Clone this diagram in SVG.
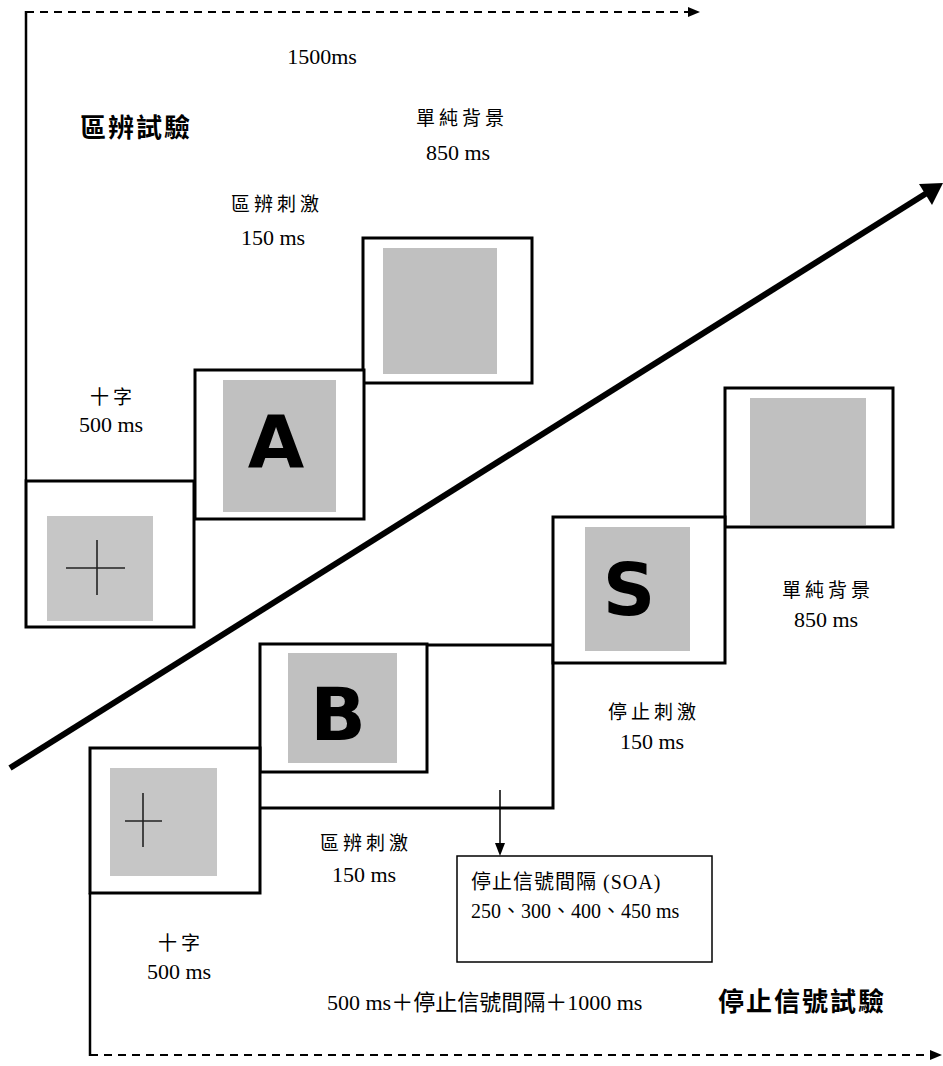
<svg xmlns="http://www.w3.org/2000/svg" width="943" height="1066" viewBox="0 0 943 1066">
<style>
.t{font-family:"Liberation Serif","Noto Sans CJK TC",serif;font-size:22px;fill:#000;text-anchor:middle}
.c{font-family:"Liberation Serif","Noto Sans CJK TC",serif;font-size:19px;fill:#000;text-anchor:middle;letter-spacing:4px}
.tl{font-family:"Liberation Serif","Noto Sans CJK TC",serif;font-size:20px;fill:#000}
.h{font-family:"Liberation Serif","Noto Sans CJK TC",serif;font-size:26px;font-weight:bold;fill:#000;letter-spacing:2px}
.box{fill:#fff;stroke:#000;stroke-width:3}
.g{fill:#c0c0c0}
.g2{fill:#c6c6c6}
.cr{stroke:#222;stroke-width:1.6}
.L{font-family:"DejaVu Sans",sans-serif;font-weight:bold;font-size:73px;fill:#000;text-anchor:middle}
.dash{fill:none;stroke:#000;stroke-width:2;stroke-dasharray:8 6}
</style>

<g id="connectors">
<path class="dash" d="M26,12 H688" />
<path d="M688,7 L700,12 L688,17 z" fill="#000"/>
<path class="dash" d="M90,1055 H930" />
<path d="M930,1050 L942,1055 L930,1060 z" fill="#000"/>
<line x1="26" y1="11" x2="26" y2="480" stroke="#000" stroke-width="2.5"/>
<line x1="90" y1="893" x2="90" y2="1056" stroke="#000" stroke-width="2.5"/>
<line x1="10" y1="768" x2="930" y2="191" stroke="#000" stroke-width="6"/>
<path d="M943,183 L919,184 L932,205 z" fill="#000"/>
<polyline points="427,645 553,645 553,808 260,808" fill="none" stroke="#000" stroke-width="3"/>
<line x1="500" y1="790" x2="500" y2="843" stroke="#000" stroke-width="1.5"/>
<path d="M495,843 L500,856 L505,843 z" fill="#000"/>
</g>

<g id="title-discrimination"><text class="h" x="80" y="137">區辨試驗</text></g>
<g id="label-1500"><text class="t" x="322" y="64">1500ms</text></g>

<g id="top-blank">
<rect class="box" x="363" y="238" width="169" height="145"/>
<rect class="g" x="383" y="248" width="114" height="126"/>
<text class="c" x="462" y="125">單純背景</text>
<text class="t" x="458" y="160">850 ms</text>
</g>

<g id="top-A">
<rect class="box" x="195" y="370" width="169" height="149"/>
<rect class="g" x="223" y="380" width="113" height="132"/>
<text class="L" x="276" y="468">A</text>
<text class="c" x="277" y="211">區辨刺激</text>
<text class="t" x="273" y="245">150 ms</text>
</g>

<g id="top-cross">
<rect class="box" x="26" y="481" width="168" height="146"/>
<rect class="g2" x="47" y="516" width="106" height="105"/>
<line class="cr" x1="66" y1="568" x2="125" y2="568"/>
<line class="cr" x1="97" y1="540" x2="97" y2="595"/>
<text class="c" x="113" y="404">十字</text>
<text class="t" x="111" y="432">500 ms</text>
</g>

<g id="bottom-blank">
<rect class="box" x="725" y="388" width="168" height="139"/>
<rect class="g" x="750" y="398" width="116" height="127"/>
<text class="c" x="828" y="597">單純背景</text>
<text class="t" x="826" y="627">850 ms</text>
</g>

<g id="bottom-S">
<rect class="box" x="553" y="517" width="172" height="146"/>
<rect class="g" x="585" y="527" width="105" height="124"/>
<text class="L" x="629" y="615">S</text>
<text class="c" x="654" y="719">停止刺激</text>
<text class="t" x="652" y="749">150 ms</text>
</g>

<g id="bottom-B">
<rect class="box" x="260" y="644" width="167" height="128"/>
<rect class="g" x="288" y="653" width="109" height="110"/>
<text class="L" x="338" y="740">B</text>
<text class="c" x="366" y="850">區辨刺激</text>
<text class="t" x="364" y="882">150 ms</text>
</g>

<g id="bottom-cross">
<rect class="box" x="90" y="748" width="170" height="145"/>
<rect class="g2" x="110" y="768" width="107" height="108"/>
<line class="cr" x1="125" y1="821" x2="162" y2="821"/>
<line class="cr" x1="143" y1="793" x2="143" y2="847"/>
<text class="c" x="181" y="950">十字</text>
<text class="t" x="179" y="979">500 ms</text>
</g>

<g id="soa-box">
<rect x="457" y="856" width="255" height="106" fill="#fff" stroke="#000" stroke-width="1.5"/>
<text class="tl" x="471" y="889" style="letter-spacing:1px">停止信號間隔 (SOA)</text>
<text class="tl" x="471" y="918">250、300、400、450 ms</text>
</g>

<g id="total-label"><text class="tl" x="327" y="1010" style="font-size:22px">500 ms＋停止信號間隔＋1000 ms</text></g>
<g id="title-stop"><text class="h" x="718" y="1011">停止信號試驗</text></g>
</svg>
